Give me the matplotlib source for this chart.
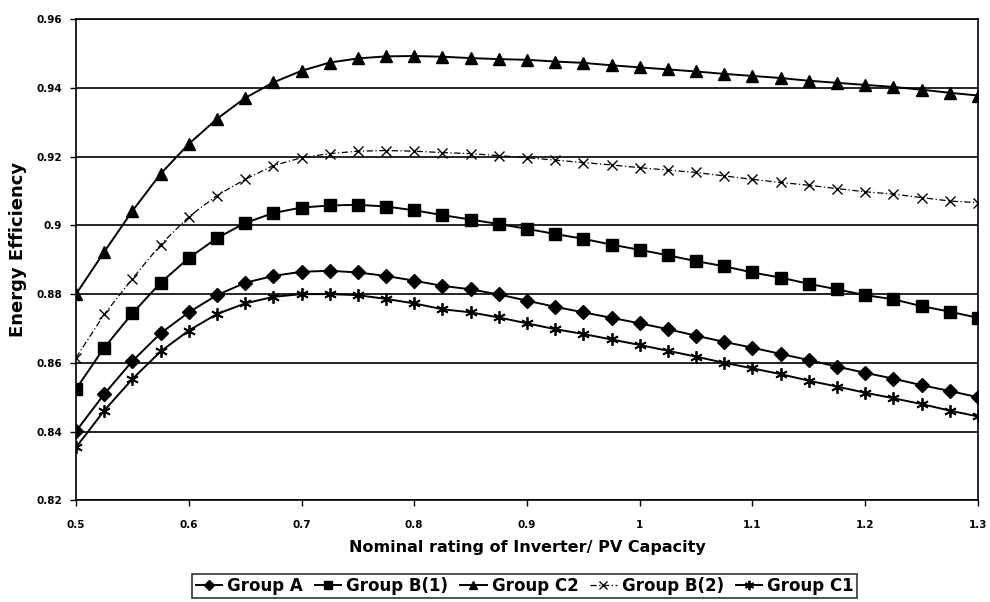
import numpy as np
from matplotlib import pyplot as plt

# x axis: nominal rating of inverter / PV capacity
ratio = [0.5, 0.525, 0.55, 0.575, 0.6, 0.625, 0.65, 0.675, 0.7, 0.725, 0.75,
         0.775, 0.8, 0.825, 0.85, 0.875, 0.9, 0.925, 0.95, 0.975, 1.0, 1.025,
         1.05, 1.075, 1.1, 1.125, 1.15, 1.175, 1.2, 1.225, 1.25, 1.275, 1.3]

group_a = [0.8401, 0.8509, 0.8605, 0.8686, 0.8747, 0.8797, 0.8833, 0.8853, 0.8865,
           0.8868, 0.8863, 0.8853, 0.8839, 0.8824, 0.8814, 0.8799, 0.8781, 0.8763,
           0.8747, 0.8731, 0.8715, 0.8698, 0.8679, 0.8661, 0.8644, 0.8626, 0.8608,
           0.8589, 0.8571, 0.8554, 0.8535, 0.8518, 0.8500]

group_b1 = [0.8524, 0.8644, 0.8744, 0.8833, 0.8905, 0.8963, 0.9007, 0.9036, 0.9052,
            0.9058, 0.9060, 0.9055, 0.9044, 0.9030, 0.9017, 0.9004, 0.8990, 0.8975,
            0.8961, 0.8944, 0.8929, 0.8913, 0.8896, 0.8881, 0.8863, 0.8848, 0.8830,
            0.8814, 0.8797, 0.8785, 0.8765, 0.8749, 0.8731]

group_c2 = [0.8800, 0.8923, 0.9042, 0.9150, 0.9237, 0.9310, 0.9371, 0.9416, 0.9450,
            0.9474, 0.9486, 0.9492, 0.9493, 0.9491, 0.9487, 0.9484, 0.9482, 0.9477,
            0.9473, 0.9466, 0.9460, 0.9454, 0.9448, 0.9441, 0.9435, 0.9429, 0.9421,
            0.9415, 0.9409, 0.9403, 0.9395, 0.9386, 0.9378]

group_b2 = [0.8615, 0.8741, 0.8845, 0.8944, 0.9025, 0.9087, 0.9134, 0.9174, 0.9197,
            0.9209, 0.9216, 0.9218, 0.9216, 0.9212, 0.9209, 0.9203, 0.9197, 0.9190,
            0.9183, 0.9176, 0.9168, 0.9161, 0.9154, 0.9144, 0.9134, 0.9125, 0.9117,
            0.9107, 0.9098, 0.9091, 0.9081, 0.9071, 0.9066]

group_c1 = [0.8354, 0.8461, 0.8553, 0.8633, 0.8694, 0.8742, 0.8773, 0.8792, 0.8800,
            0.8800, 0.8797, 0.8786, 0.8773, 0.8756, 0.8747, 0.8732, 0.8715, 0.8698,
            0.8684, 0.8668, 0.8652, 0.8635, 0.8618, 0.8600, 0.8584, 0.8567, 0.8548,
            0.8531, 0.8513, 0.8497, 0.8480, 0.8461, 0.8444]

plt.rcParams['font.family'] = ['DejaVu Sans']
plt.rcParams['font.weight'] = 'bold'

fig = plt.figure(figsize=(9.9, 6.02), dpi=100)
ax = fig.add_axes([0.0768, 0.169, 0.911, 0.799])

ax.plot(ratio, group_a, color='black', lw=1.4, marker='D', ms=7, label='Group A')
ax.plot(ratio, group_b1, color='black', lw=1.4, marker='s', ms=8, label='Group B(1)')
ax.plot(ratio, group_c2, color='black', lw=1.4, marker='^', ms=8, label='Group C2')
ax.plot(ratio, group_b2, color='black', lw=0.9, ls=(0, (5, 2, 1, 2)), marker='x', ms=7,
        mew=1.0, label='Group B(2)')
ax.plot(ratio, group_c1, color='black', lw=1.4, marker=(6, 2, 0), ms=9, mew=1.3,
        label='Group C1')

ax.set_xlim(0.5, 1.3)
ax.set_ylim(0.82, 0.96)
ax.set_xticks(np.arange(0.5, 1.31, 0.1))
ax.set_xticklabels(['0.5', '0.6', '0.7', '0.8', '0.9', '1', '1.1', '1.2', '1.3'])
ax.set_yticks(np.arange(0.82, 0.961, 0.02))
ax.set_yticklabels(['0.82', '0.84', '0.86', '0.88', '0.9', '0.92', '0.94', '0.96'])
ax.tick_params(labelsize=7.5, length=4, width=1, direction='out')
ax.tick_params(axis='y', pad=6)
ax.tick_params(axis='x', pad=10)
ax.yaxis.grid(True, color='black', lw=1.2)
ax.set_axisbelow(True)
for s in ax.spines.values():
    s.set_linewidth(1.2)

ax.set_xlabel('Nominal rating of Inverter/ PV Capacity', fontsize=11.5, fontweight='bold')
ax.xaxis.label.set_va('center')
ax.xaxis.set_label_coords(0.5, -0.098)
ax.set_ylabel('Energy Efficiency', fontsize=13, fontweight='bold')
ax.yaxis.label.set_va('center')
ax.yaxis.set_label_coords(-0.064, 0.522)

leg = fig.legend(loc='upper center', bbox_to_anchor=(0.53, 0.061), ncol=5,
                 frameon=True, fancybox=False, edgecolor='black', fontsize=12,
                 handlelength=1.6, handletextpad=0.3, columnspacing=0.7,
                 markerscale=0.75, borderpad=0.2)
leg.get_frame().set_linewidth(1.2)

fig.savefig('out.png', dpi=100)
